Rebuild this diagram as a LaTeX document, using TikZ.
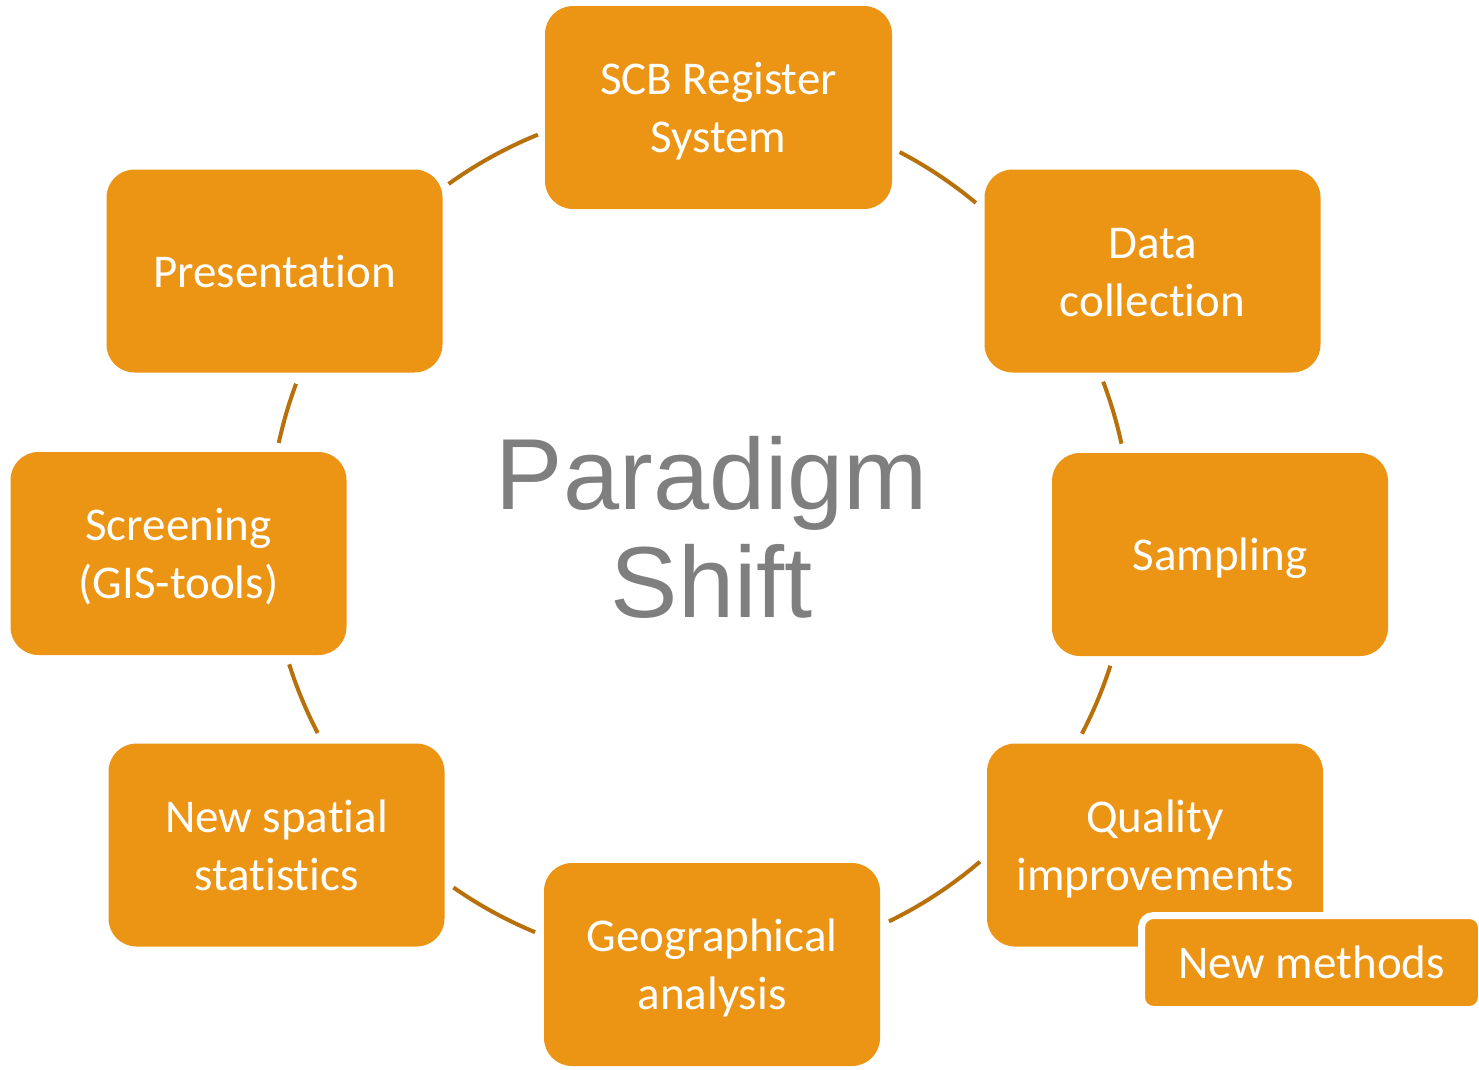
\documentclass[tikz,border=0pt]{standalone}
\usepackage{fontspec}
\usetikzlibrary{calc}
\setmainfont{Carlito}[Ligatures={NoCommon,NoContextual},Contextuals=NoAlternate]
\newfontfamily\arialfont{Liberation Sans}
\definecolor{boxorange}{HTML}{EC9413}
\definecolor{arcbrown}{HTML}{B8700A}
\definecolor{titlegray}{HTML}{7F7F7F}
\tikzset{
  stepbox/.style={rectangle, rounded corners=28pt, fill=boxorange, draw=none,
    minimum width=336pt, minimum height=203pt, inner sep=0pt, align=center,
    text=white, font=\fontsize{47}{58}\selectfont,
    execute at begin node={\rule{0pt}{44pt}},
    execute at end node={\rule[-12pt]{0pt}{12pt}}},
  twoline/.style={execute at begin node={\rule{0pt}{102pt}}},
  cyc/.style={draw=arcbrown, line width=4pt},
  subbox/.style={rectangle, rounded corners=12pt, fill=boxorange, draw=white, line width=7pt,
    minimum width=340pt, minimum height=94pt, inner sep=0pt, align=center,
    text=white, font=\fontsize{47}{58}\selectfont,
    execute at begin node={\rule{0pt}{44pt}},
    execute at end node={\rule[-12pt]{0pt}{12pt}}},
}
\begin{document}
\begin{tikzpicture}[x=1pt,y=1pt]
\useasboundingbox (0,0) rectangle (1479,-1069);
\coordinate (c) at (700,-534);
% arcs
\draw[cyc] ($(c)+(125.7:431pt)$) arc[start angle=125.7, end angle=112.1, radius=431pt];
\draw[cyc] ($(c)+(62.4:431pt)$) arc[start angle=62.4, end angle=50.2, radius=431pt];
\draw[cyc] ($(c)+(20.7:431pt)$) arc[start angle=20.7, end angle=12.1, radius=431pt];
\draw[cyc] ($(c)+(-17.8:431pt)$) arc[start angle=-17.8, end angle=-27.6, radius=431pt];
\draw[cyc] ($(c)+(-49.5:431pt)$) arc[start angle=-49.5, end angle=-64.0, radius=431pt];
\draw[cyc] ($(c)+(-112.5:431pt)$) arc[start angle=-112.5, end angle=-124.9, radius=431pt];
\draw[cyc] ($(c)+(-152.5:431pt)$) arc[start angle=-152.5, end angle=-162.4, radius=431pt];
\draw[cyc] ($(c)+(167.8:431pt)$) arc[start angle=167.8, end angle=159.6, radius=431pt];
% boxes
\node[stepbox, twoline, minimum width=347pt] (scb) at (718.5,-107.5) {SCB Register\\System};
\node[stepbox, twoline] (data) at (1152.5,-271) {Data\\collection};
\node[stepbox] (samp) at (1220,-554.5) {Sampling};
\node[stepbox, twoline] (qual) at (1155,-845) {Quality\\improvements};
\node[stepbox, twoline] (geo) at (712,-964.5) {Geographical\\analysis};
\node[stepbox, twoline] (spat) at (276.5,-845) {New spatial\\statistics};
\node[stepbox, twoline] (scr) at (178.5,-553.5) {Screening\\(GIS-tools)};
\node[stepbox] (pres) at (274.5,-271) {Presentation};
\node[subbox] (newm) at (1311.5,-962.5) {New methods};
% title
\node[align=center, text=titlegray, font=\arialfont\fontsize{101}{108}\selectfont, inner sep=0pt] (title) at (712,-527) {Paradigm\\Shift};
\end{tikzpicture}
\end{document}
